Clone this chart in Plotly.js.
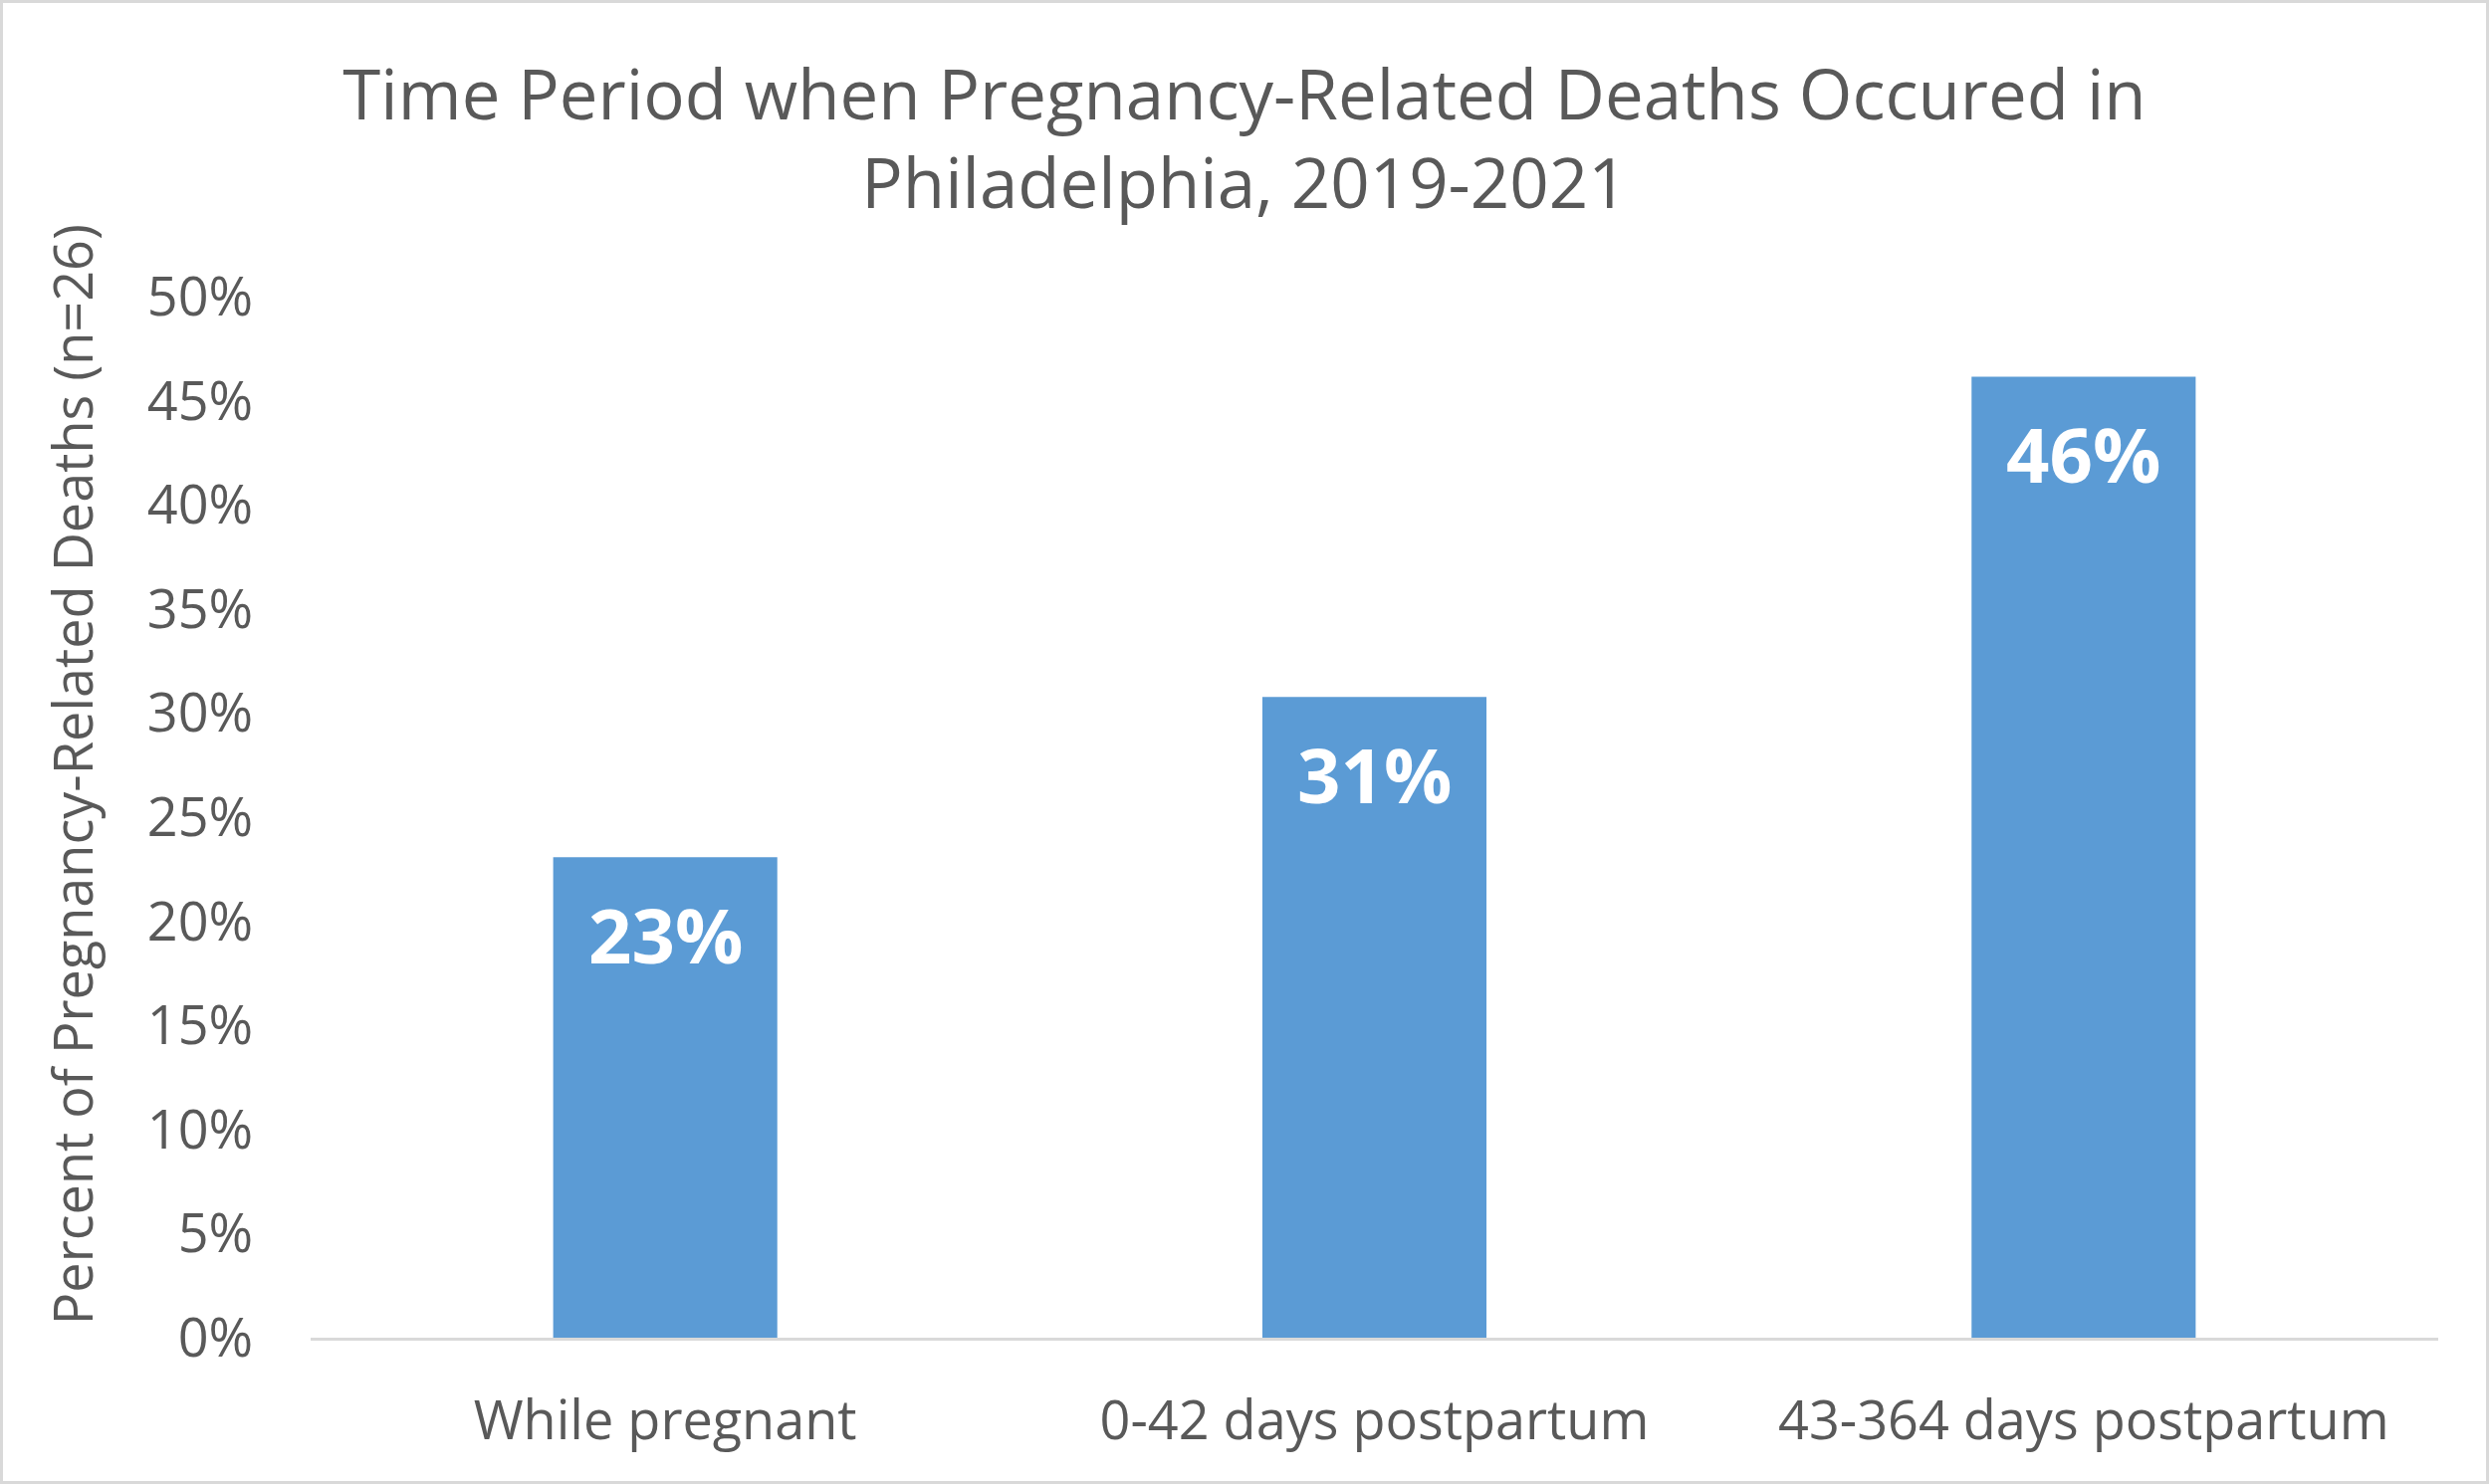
<!DOCTYPE html>
<html>
<head>
<meta charset="utf-8">
<script src="https://cdn.plot.ly/plotly-3.0.1.min.js"></script>
<style>
  body { margin: 0; background: #fff; }
  #chart {
    width: 2494px;
    height: 1485px;
    border: 3px solid #d9d9d9;
  }
</style>
</head>
<body>
<div id="chart"></div>
<script>
// deaths by time period, share of n=26
const categories = ['While pregnant', '0-42 days postpartum', '43-364 days postpartum'];
const percents = [23.08, 30.77, 46.15];
const labels = ['23%', '31%', '46%'];
const yTicks = [0, 5, 10, 15, 20, 25, 30, 35, 40, 45, 50];
const yTickText = yTicks.map(v => v + '%');

const textColor = '#595959';
const font = 'Open Sans, sans-serif';

const trace = {
  type: 'bar',
  x: categories,
  y: percents,
  marker: { color: '#5b9bd5' },
  hoverinfo: 'skip'
};

// labels sit a bit below the bar top, like the excel chart
const annos = categories.map((c, i) => ({
  x: c,
  y: percents[i],
  xref: 'x',
  yref: 'y',
  text: '<b>' + labels[i] + '</b>',
  showarrow: false,
  yanchor: 'middle',
  yshift: -77,
  font: { family: font, size: 76, color: '#ffffff' }
}));

// y title as annotation, excel puts it a little above the plot middle
annos.push({
  xref: 'paper',
  yref: 'paper',
  x: -0.1123,
  y: 0.541,
  xanchor: 'center',
  yanchor: 'middle',
  textangle: -90,
  showarrow: false,
  text: 'Percent of Pregnancy-Related Deaths (n=26)',
  font: { family: font, size: 54, color: textColor }
});

const layout = {
  width: 2494,
  height: 1485,
  margin: { l: 309, r: 48, t: 295, b: 144 },
  paper_bgcolor: '#ffffff',
  plot_bgcolor: '#ffffff',
  showlegend: false,
  bargap: 0.684,
  title: {
    text: 'Time Period when Pregnancy-Related Deaths Occured in<br>Philadelphia, 2019-2021',
    font: { family: font, size: 69, color: textColor },
    x: 0.5,
    xanchor: 'center',
    yref: 'container',
    y: 0.9215,
    yanchor: 'top'
  },
  xaxis: {
    showline: true,
    linecolor: '#d9d9d9',
    linewidth: 3,
    showgrid: false,
    zeroline: false,
    ticks: 'outside',
    ticklen: 34,
    tickcolor: 'rgba(0,0,0,0)',
    tickfont: { family: font, size: 54, color: textColor },
    fixedrange: true
  },
  yaxis: {
    range: [0, 50],
    autorange: false,
    tickvals: yTicks,
    ticktext: yTickText,
    showline: false,
    showgrid: false,
    zeroline: false,
    ticks: 'outside',
    ticklen: 46,
    tickcolor: 'rgba(0,0,0,0)',
    tickfont: { family: font, size: 54, color: textColor },
    fixedrange: true
  },
  annotations: annos
};

Plotly.newPlot('chart', [trace], layout, { displayModeBar: false, staticPlot: true });
</script>
</body>
</html>
